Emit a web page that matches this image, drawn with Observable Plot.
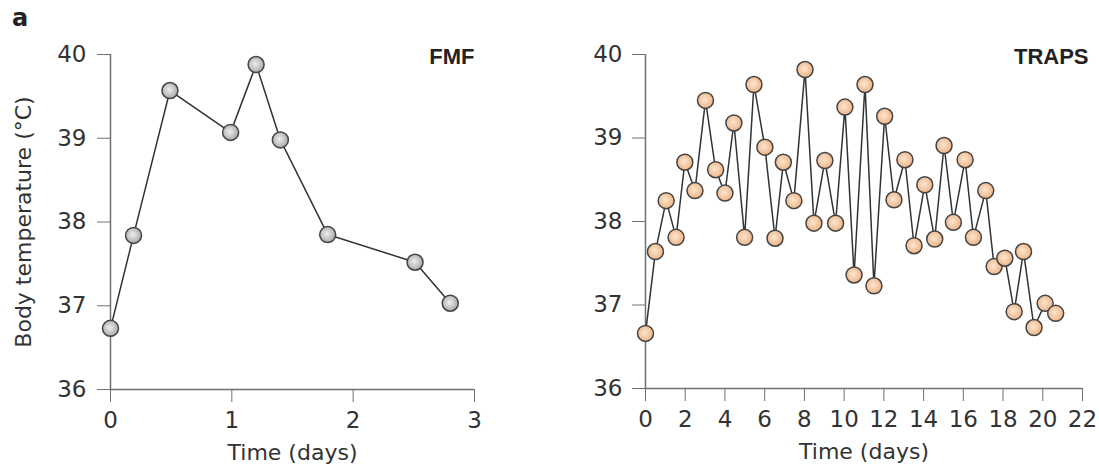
<!DOCTYPE html>
<html>
<head>
<meta charset="utf-8">
<script src="https://cdn.jsdelivr.net/npm/d3@7"></script>
<script src="https://cdn.jsdelivr.net/npm/@observablehq/plot@0.6"></script>
<style>
  html, body { margin: 0; padding: 0; background: #fff; }
  #wrap { position: relative; width: 1099px; height: 465px; overflow: hidden; font-family: "DejaVu Sans", sans-serif; }
  #panelLabel { position: absolute; left: 12px; top: 4px; font-size: 24px; font-weight: bold; color: #222; }
  #left { position: absolute; left: 0; top: 0; }
  #right { position: absolute; left: 545px; top: 0; }
</style>
</head>
<body>
<div id="wrap">
  <div id="left"></div>
  <div id="right"></div>
  <div id="panelLabel">a</div>
</div>
<script>
// FMF panel
const fmfTime = [0, 0.19, 0.49, 0.99, 1.2, 1.4, 1.79, 2.51, 2.8];
const fmfTemp = [36.73, 37.84, 39.57, 39.07, 39.88, 38.98, 37.85, 37.52, 37.03];
const fmfTicks = [0, 1, 2, 3];

// TRAPS panel
const trapsTime = [0, 0.5, 1.04, 1.54, 1.98, 2.49, 3.02, 3.53, 4.0, 4.45, 4.99, 5.46, 6.01, 6.52, 6.94, 7.47, 8.03, 8.48, 9.03, 9.57, 10.04, 10.5, 11.05, 11.5, 12.04, 12.51, 13.06, 13.52, 14.06, 14.56, 15.03, 15.5, 16.09, 16.51, 17.13, 17.55, 18.09, 18.56, 19.03, 19.56, 20.12, 20.65];
const trapsTemp = [36.66, 37.64, 38.25, 37.81, 38.71, 38.37, 39.45, 38.62, 38.34, 39.18, 37.81, 39.64, 38.89, 37.80, 38.71, 38.25, 39.82, 37.98, 38.73, 37.98, 39.37, 37.36, 39.64, 37.23, 39.26, 38.26, 38.74, 37.71, 38.44, 37.79, 38.91, 37.99, 38.74, 37.81, 38.37, 37.46, 37.56, 36.92, 37.64, 36.73, 37.02, 36.90];
const trapsTicks = [0, 2, 4, 6, 8, 10, 12, 14, 16, 18, 20, 22];

const yTicks = [36, 37, 38, 39, 40];
const yLabel = "Body temperature (°C)";
const xLabel = "Time (days)";

function panel({times, temps, xDomain, xTicks, title, gradId, c0, c1, width, marginLeft, marginRight, marginBottom, showYLabel, titleDx, yPad}) {
  const data = times.map((t, i) => ({t, v: temps[i]}));
  const marks = [
    Plot.ruleX([xDomain[0]], {stroke: "#707070", strokeWidth: 1.5}),
    Plot.ruleY([36], {stroke: "#707070", strokeWidth: 1.5}),
    Plot.axisX({ticks: xTicks, tickFormat: "d", tickSize: 13, tickPadding: 9, label: null, stroke: "#707070", fill: "#333", fontSize: 23}),
    Plot.axisY({ticks: yTicks, tickFormat: "d", tickSize: 13, tickPadding: yPad, label: null, stroke: "#707070", fill: "#333", fontSize: 23}),
    Plot.line(data, {x: "t", y: "v", stroke: "#333", strokeWidth: 1.5}),
    Plot.dot(data, {x: "t", y: "v", r: 8, fill: `url(#${gradId})`, stroke: "#444", strokeWidth: 1.5}),
    Plot.text([title], {frameAnchor: "top-right", textAnchor: "end", lineAnchor: "middle", dx: titleDx, dy: 2, fontSize: 22, fontWeight: "bold", fill: "#222", fontFamily: "Liberation Sans, Arial, sans-serif"}),
    Plot.text([xLabel], {frameAnchor: "bottom", textAnchor: "middle", lineAnchor: "middle", dy: 63, fontSize: 22, fill: "#333"})
  ];
  if (showYLabel) {
    marks.push(Plot.text([yLabel], {frameAnchor: "left", rotate: -90, textAnchor: "middle", lineAnchor: "middle", dx: -87, fontSize: 22, fill: "#333"}));
  }
  const svg = Plot.plot({
    width, height: 465,
    marginLeft, marginRight, marginTop: 54, marginBottom,
    style: {fontFamily: "DejaVu Sans, sans-serif", background: "transparent", overflow: "visible"},
    x: {domain: xDomain},
    y: {domain: [36, 40]},
    marks
  });
  const defs = d3.select(svg).insert("defs", ":first-child");
  const g = defs.append("radialGradient").attr("id", gradId).attr("cx", "45%").attr("cy", "45%").attr("r", "55%");
  g.append("stop").attr("offset", "0%").attr("stop-color", c0);
  g.append("stop").attr("offset", "100%").attr("stop-color", c1);
  return svg;
}

document.getElementById("left").appendChild(panel({
  times: fmfTime, temps: fmfTemp, xDomain: [0, 3], xTicks: fmfTicks, title: "FMF",
  gradId: "gFMF", c0: "#eeeeee", c1: "#a9a9a9",
  width: 545, marginLeft: 110, marginRight: 71, marginBottom: 76, showYLabel: true, titleDx: 0, yPad: 11
}));
document.getElementById("right").appendChild(panel({
  times: trapsTime, temps: trapsTemp, xDomain: [0, 22], xTicks: trapsTicks, title: "TRAPS",
  gradId: "gTRAPS", c0: "#fde6cf", c1: "#eeb487",
  width: 554, marginLeft: 100, marginRight: 17, marginBottom: 77, showYLabel: false, titleDx: 6, yPad: 10
}));
</script>
</body>
</html>
